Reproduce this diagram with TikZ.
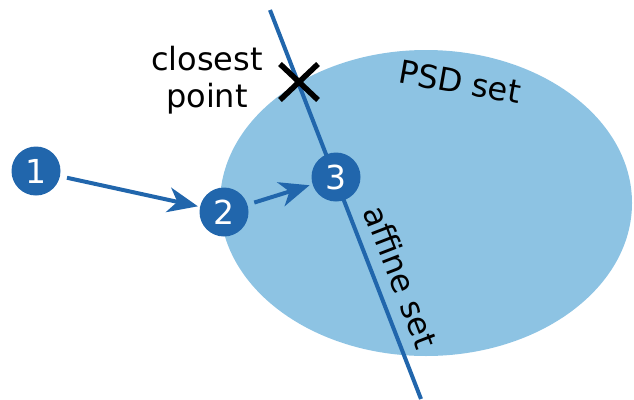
\documentclass[tikz,border=0pt]{standalone}
\usepackage{fontspec}
\setmainfont{DejaVu Sans}
\usetikzlibrary{arrows.meta}
\definecolor{dblue}{HTML}{2166AC}
\definecolor{lblue}{HTML}{8DC3E3}
\begin{document}
\begin{tikzpicture}[x=1pt,y=-1pt,
  pt/.style={circle,fill=dblue,text=white,minimum size=49pt,inner sep=0pt,font=\fontsize{33}{34}\selectfont},
  lbl/.style={font=\fontsize{32}{37}\selectfont,inner sep=0pt},
  arr/.style={dblue,line width=4pt,-{Stealth[length=30pt,width=25pt,inset=9pt]}}]
\useasboundingbox (0,0) rectangle (634,399);
\fill[lblue] (426,203) ellipse [x radius=206, y radius=153];
\coordinate (la) at (270,10);
\coordinate (lb) at (421,399);
\draw[dblue,line width=4pt] (la) -- (lb);
\node[pt] (p1) at (36,171) {1};
\node[pt] (p2) at (224,212) {2};
\node[pt] (p3) at (336,177) {3};
\draw[arr,shorten <=7pt,shorten >=2pt] (p1) -- (p2);
\draw[arr,shorten <=7pt,shorten >=3pt] (p2) -- (p3);
\coordinate (cx) at (299,82);
\draw[black,line width=5.5pt] ([shift={(-19,-18)}]cx) -- ([shift={(19,18)}]cx);
\draw[black,line width=5.5pt] ([shift={(-19,18)}]cx) -- ([shift={(19,-18)}]cx);
\node[lbl,align=center] (cp) at (207,80) {closest\\point};
\node[lbl,rotate=-10] (psd) at (460,82) {PSD set};
\node[lbl,rotate=-68.9] (aff) at (401,277) {affine set};
\end{tikzpicture}
\end{document}
